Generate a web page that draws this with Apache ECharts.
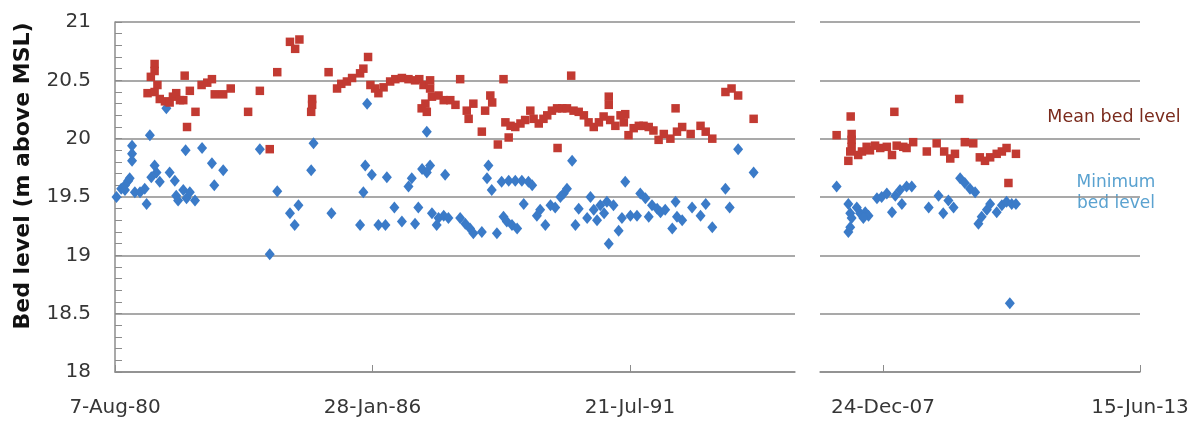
<!DOCTYPE html>
<html>
<head>
<meta charset="utf-8">
<script src="https://cdn.jsdelivr.net/npm/echarts@6/dist/echarts.min.js"></script>
<style>
  html, body { margin: 0; padding: 0; background: #ffffff; }
  #chart { width: 1202px; height: 424px; }
</style>
</head>
<body>
<div id="chart"></div>
<script>
// Survey dates are decimal years; levels are metres above MSL.
const meanEarly = [
  [1981.44, 20.64], [1981.44, 20.58], [1981.36, 20.53], [1981.50, 20.46], [1981.29, 20.39],
  [1981.44, 20.40], [1981.55, 20.34], [1981.66, 20.32], [1981.76, 20.31], [1981.83, 20.36],
  [1981.90, 20.39], [1981.98, 20.33], [1982.05, 20.33], [1982.08, 20.54], [1982.19, 20.41],
  [1982.31, 20.23], [1982.13, 20.10], [1982.44, 20.46], [1982.56, 20.48], [1982.66, 20.51],
  [1982.72, 20.38], [1982.90, 20.38], [1983.06, 20.43], [1983.43, 20.23], [1983.68, 20.41],
  [1983.89, 19.91], [1984.05, 20.57], [1984.32, 20.83], [1984.43, 20.77], [1984.52, 20.85],
  [1984.79, 20.34], [1984.79, 20.29], [1984.77, 20.23], [1985.14, 20.57], [1985.32, 20.43],
  [1985.41, 20.47], [1985.53, 20.49], [1985.64, 20.52], [1985.81, 20.56], [1985.88, 20.60],
  [1985.98, 20.70], [1986.03, 20.46], [1986.13, 20.43], [1986.20, 20.39], [1986.31, 20.44],
  [1986.45, 20.49], [1986.56, 20.51], [1986.70, 20.52], [1986.84, 20.51], [1986.98, 20.50],
  [1987.07, 20.51], [1987.16, 20.46], [1987.30, 20.50], [1987.30, 20.43], [1987.12, 20.26],
  [1987.23, 20.23], [1987.20, 20.30], [1987.34, 20.36], [1987.48, 20.37], [1987.59, 20.33],
  [1987.73, 20.33], [1987.84, 20.29], [1987.94, 20.51], [1988.08, 20.24], [1988.12, 20.17],
  [1988.22, 20.30], [1988.40, 20.06], [1988.47, 20.24], [1988.58, 20.37], [1988.62, 20.31],
  [1988.86, 20.51], [1988.74, 19.95], [1988.90, 20.14], [1988.97, 20.01], [1989.01, 20.11],
  [1989.11, 20.10], [1989.22, 20.13], [1989.32, 20.16], [1989.43, 20.24], [1989.50, 20.17],
  [1989.61, 20.13], [1989.71, 20.17], [1989.79, 20.20], [1989.89, 20.24], [1990.00, 20.26],
  [1990.11, 20.26], [1990.21, 20.26], [1990.30, 20.54], [1990.35, 20.24], [1990.46, 20.23],
  [1990.57, 20.20], [1990.67, 20.14], [1990.78, 20.10], [1990.89, 20.14], [1990.99, 20.19],
  [1990.01, 19.92], [1991.10, 20.36], [1991.10, 20.29], [1991.13, 20.16], [1991.24, 20.11],
  [1991.35, 20.20], [1991.45, 20.21], [1991.42, 20.14], [1991.52, 20.03], [1991.63, 20.09],
  [1991.74, 20.11], [1991.84, 20.11], [1991.95, 20.10], [1992.05, 20.07], [1992.16, 19.99],
  [1992.27, 20.04], [1992.41, 20.00], [1992.52, 20.26], [1992.55, 20.06], [1992.66, 20.10],
  [1992.84, 20.04], [1993.05, 20.11], [1993.16, 20.06], [1993.30, 20.00], [1993.58, 20.40],
  [1993.71, 20.43], [1993.85, 20.37], [1994.18, 20.17]
];

const minEarly = [
  [1980.63, 19.50], [1980.73, 19.57], [1980.81, 19.56], [1980.81, 19.60], [1980.88, 19.64],
  [1980.96, 19.94], [1980.96, 19.87], [1980.96, 19.81], [1980.91, 19.66], [1981.02, 19.54],
  [1981.13, 19.54], [1981.23, 19.57], [1981.27, 19.44], [1981.34, 20.03], [1981.37, 19.67],
  [1981.44, 19.77], [1981.48, 19.71], [1981.55, 19.63], [1981.69, 20.26], [1981.76, 19.71],
  [1981.87, 19.64], [1981.90, 19.51], [1981.94, 19.47], [1982.05, 19.56], [1982.12, 19.49],
  [1982.19, 19.54], [1982.30, 19.47], [1982.10, 19.90], [1982.45, 19.92], [1982.66, 19.79],
  [1982.90, 19.73], [1982.71, 19.60], [1983.68, 19.91], [1984.05, 19.55], [1983.89, 19.01],
  [1984.32, 19.36], [1984.50, 19.43], [1984.42, 19.26], [1984.82, 19.96], [1984.77, 19.73],
  [1985.20, 19.36], [1985.81, 19.26], [1985.88, 19.54], [1985.96, 20.30], [1985.92, 19.77],
  [1986.06, 19.69], [1986.20, 19.26], [1986.35, 19.26], [1986.38, 19.67], [1986.54, 19.41],
  [1986.70, 19.29], [1986.84, 19.59], [1986.91, 19.66], [1986.98, 19.27], [1987.05, 19.41],
  [1987.13, 19.74], [1987.23, 19.71], [1987.30, 19.77], [1987.23, 20.06], [1987.34, 19.36],
  [1987.48, 19.32], [1987.44, 19.26], [1987.62, 19.69], [1987.59, 19.34], [1987.69, 19.32],
  [1987.94, 19.32], [1988.05, 19.27], [1988.15, 19.23], [1988.22, 19.19], [1988.40, 19.20],
  [1988.54, 19.77], [1988.51, 19.66], [1988.61, 19.56], [1988.72, 19.19], [1988.82, 19.63],
  [1988.97, 19.64], [1989.11, 19.64], [1989.25, 19.64], [1989.39, 19.63], [1989.47, 19.60],
  [1988.86, 19.33], [1988.93, 19.29], [1989.04, 19.26], [1989.15, 19.23], [1989.29, 19.44],
  [1989.57, 19.34], [1989.64, 19.39], [1989.75, 19.26], [1989.86, 19.43], [1989.96, 19.41],
  [1990.07, 19.50], [1990.14, 19.53], [1990.21, 19.57], [1990.32, 19.81], [1990.39, 19.26],
  [1990.46, 19.40], [1990.64, 19.32], [1990.71, 19.50], [1990.78, 19.39], [1990.85, 19.30],
  [1990.92, 19.43], [1991.00, 19.36], [1991.06, 19.46], [1991.10, 19.10], [1991.20, 19.43],
  [1991.31, 19.21], [1991.38, 19.32], [1991.45, 19.63], [1991.56, 19.34], [1991.70, 19.34],
  [1991.77, 19.53], [1991.88, 19.49], [1991.95, 19.33], [1992.02, 19.43], [1992.13, 19.40],
  [1992.20, 19.37], [1992.30, 19.39], [1992.45, 19.23], [1992.52, 19.46], [1992.55, 19.33],
  [1992.66, 19.30], [1992.87, 19.41], [1993.05, 19.34], [1993.16, 19.44], [1993.30, 19.24],
  [1993.58, 19.57], [1993.67, 19.41], [1993.85, 19.91], [1994.18, 19.71]
];

const meanLate = [
  [2006.99, 20.03], [2007.29, 20.19], [2007.31, 20.04], [2007.31, 19.99], [2007.31, 19.93],
  [2007.28, 19.89], [2007.24, 19.81], [2007.45, 19.86], [2007.53, 19.89], [2007.63, 19.93],
  [2007.70, 19.90], [2007.81, 19.94], [2007.92, 19.92], [2008.06, 19.93], [2008.17, 19.86],
  [2008.22, 20.23], [2008.27, 19.94], [2008.41, 19.93], [2008.48, 19.92], [2008.62, 19.97],
  [2008.91, 19.89], [2009.12, 19.96], [2009.28, 19.89], [2009.41, 19.83], [2009.51, 19.87],
  [2009.60, 20.34], [2009.72, 19.97], [2009.90, 19.96], [2010.04, 19.84], [2010.15, 19.81],
  [2010.26, 19.84], [2010.40, 19.87], [2010.51, 19.89], [2010.61, 19.92], [2010.65, 19.62],
  [2010.81, 19.87]
];

const minLate = [
  [2006.99, 19.59], [2007.24, 19.44], [2007.28, 19.36], [2007.31, 19.32], [2007.24, 19.20],
  [2007.28, 19.24], [2007.42, 19.41], [2007.49, 19.36], [2007.60, 19.37], [2007.67, 19.34],
  [2007.56, 19.32], [2007.85, 19.49], [2007.95, 19.50], [2008.06, 19.53], [2008.17, 19.37],
  [2008.24, 19.51], [2008.34, 19.56], [2008.38, 19.44], [2008.48, 19.59], [2008.59, 19.59],
  [2008.95, 19.41], [2009.16, 19.51], [2009.26, 19.36], [2009.37, 19.47], [2009.48, 19.41],
  [2009.62, 19.66], [2009.72, 19.62], [2009.83, 19.57], [2009.94, 19.54], [2010.01, 19.27],
  [2010.08, 19.33], [2010.19, 19.39], [2010.26, 19.44], [2010.40, 19.37], [2010.51, 19.43],
  [2010.61, 19.46], [2010.72, 19.44], [2010.81, 19.44], [2010.68, 18.59]
];

// Date-axis ticks, 2000 days apart
const ticksEarly = ['1980-08-07', '1986-01-28', '1991-07-21'];
const ticksLate = ['2007-12-24', '2013-06-15'];
const levelTicks = { min: 18, max: 21, step: 0.5 };

const DAY = 86400000;
const EPOCH = Date.UTC(1980, 7, 7);
const MONTHS = ['Jan','Feb','Mar','Apr','May','Jun','Jul','Aug','Sep','Oct','Nov','Dec'];

// decimal year -> days since 7-Aug-1980
function yearToDay(y) {
  const yr = Math.floor(y);
  const a = Date.UTC(yr, 0, 1), b = Date.UTC(yr + 1, 0, 1);
  return (a + (y - yr) * (b - a) - EPOCH) / DAY;
}
function isoToDay(s) { return (Date.parse(s + 'T00:00:00Z') - EPOCH) / DAY; }
function dayLabel(v) {
  const d = new Date(EPOCH + Math.round(v) * DAY);
  const yy = String(d.getUTCFullYear() % 100).padStart(2, '0');
  return d.getUTCDate() + '-' + MONTHS[d.getUTCMonth()] + '-' + yy;
}
const toXY = arr => arr.map(p => [yearToDay(p[0]), p[1]]);

const FONT = 'DejaVu Sans';
const GRID_LINE = '#8c8c8c';
const RED = '#c23a32';
const BLUE = '#3b7bc8';

function xAxisFor(gridIndex, min, max, ticks) {
  const vals = ticks.map(isoToDay);
  return {
    type: 'value', gridIndex, min, max,
    axisLine: { show: true, lineStyle: { color: GRID_LINE, width: 1.5 } },
    axisTick: { show: true, inside: true, length: 7, customValues: vals,
                lineStyle: { color: GRID_LINE, width: 1 } },
    axisLabel: { show: true, customValues: vals, formatter: dayLabel, margin: 26,
                 showMinLabel: true, showMaxLabel: true,
                 color: '#363636', fontFamily: FONT, fontSize: 20 },
    splitLine: { show: false }
  };
}
function yAxisFor(gridIndex, withLabels) {
  return {
    type: 'value', gridIndex,
    min: levelTicks.min, max: levelTicks.max, interval: levelTicks.step,
    axisLine: { show: withLabels, lineStyle: { color: GRID_LINE, width: 1.5 } },
    axisTick: { show: withLabels, inside: true, length: 7, lineStyle: { color: GRID_LINE } },
    minorTick: { show: withLabels, splitNumber: 5, length: 7, lineStyle: { color: GRID_LINE, width: 1 } },
    axisLabel: { show: withLabels, margin: 24, color: '#363636', fontFamily: FONT, fontSize: 20 },
    splitLine: { show: true, lineStyle: { color: GRID_LINE, width: 1.5 } }
  };
}
function scatter(name, data, xi, symbol, size, color) {
  return {
    name, type: 'scatter', xAxisIndex: xi, yAxisIndex: xi,
    data: toXY(data), symbol, symbolSize: size,
    itemStyle: { color, opacity: 1 }, silent: true, z: 3
  };
}

const chart = echarts.init(document.getElementById('chart'), null, { renderer: 'canvas' });
chart.setOption({
  animation: false,
  backgroundColor: '#ffffff',
  grid: [
    { left: 115, right: 407, top: 22, bottom: 52 },
    { left: 820, right: 62, top: 22, bottom: 52 }
  ],
  xAxis: [
    xAxisFor(0, 0, 5282, ticksEarly),
    xAxisFor(1, 9510, 12000, ticksLate)
  ],
  yAxis: [yAxisFor(0, true), yAxisFor(1, false)],
  series: [
    scatter('Minimum bed level', minEarly, 0, 'diamond', [10, 12], BLUE),
    scatter('Mean bed level', meanEarly, 0, 'rect', 8.5, RED),
    scatter('Minimum bed level', minLate, 1, 'diamond', [10, 12], BLUE),
    scatter('Mean bed level', meanLate, 1, 'rect', 8.5, RED)
  ],
  graphic: [
    { type: 'text', x: 23, y: 176, rotation: Math.PI / 2,
      style: { text: 'Bed level (m above MSL)', fill: '#111111',
               font: 'bold 22px "DejaVu Sans"', align: 'center', verticalAlign: 'middle' } },
    { type: 'text', x: 1114, y: 117,
      style: { text: 'Mean bed level', fill: '#7a2a1c',
               font: '17.5px "DejaVu Sans"', align: 'center', verticalAlign: 'middle' } },
    { type: 'text', x: 1116, y: 193,
      style: { text: 'Minimum\nbed level', fill: '#5aa2d0', lineHeight: 21,
               font: '17px "DejaVu Sans"', align: 'center', verticalAlign: 'middle' } }
  ]
});
</script>
</body>
</html>
